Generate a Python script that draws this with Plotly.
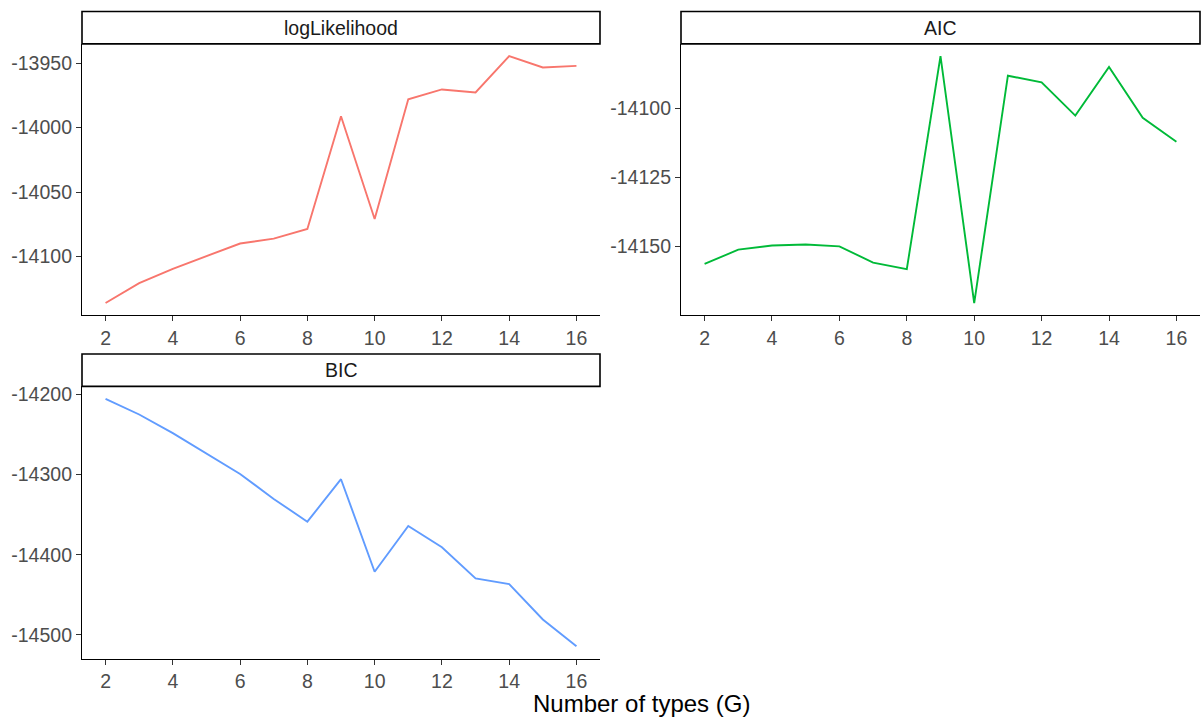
import plotly.graph_objects as go

# ---- data ----
G = list(range(2, 17))
loglik = [-14136.1, -14120.6, -14109.5, -14099.5, -14089.9, -14086.1, -14078.6,
          -13991.2, -14070.9, -13978.1, -13970.4, -13972.7, -13944.6, -13953.4, -13952.1]
aic = [-14156.5, -14151.3, -14149.8, -14149.4, -14150.1, -14156.0, -14158.4,
       -14081.0, -14170.7, -14088.1, -14090.5, -14102.6, -14084.9, -14103.4, -14112.1]
bic = [-14205.4, -14225.0, -14248.3, -14273.3, -14299.2, -14330.4, -14358.8,
       -14305.8, -14421.3, -14364.2, -14390.8, -14429.6, -14436.7, -14480.8, -14514.2]
panel_names = ["logLikelihood", "AIC", "BIC"]
colors = ["#F8766D", "#00BA38", "#619CFF"]
y_ticks = [[-13950, -14000, -14050, -14100],
           [-14100, -14125, -14150],
           [-14200, -14300, -14400, -14500]]
x_ticks = [2, 4, 6, 8, 10, 12, 14, 16]
x_title = "Number of types (G)"

W, H = 1202, 720
series = [loglik, aic, bic]

# panel geometry in pixels (left, right, top, bottom) of plotting area
panels = [(82, 600, 41, 313.7), (681, 1200, 41, 313.7), (82, 600, 385, 658.3)]
strip_h = 32.5

fig = go.Figure()

def expand(vals, m=0.05):
    lo, hi = min(vals), max(vals)
    d = (hi - lo) * m
    return [lo - d, hi + d]

FONT = "Liberation Sans, Arial, sans-serif"
TICKFONT = dict(family=FONT, size=19.5, color="#4D4D4D")
shapes = []
annotations = []
for i, (name, col, vals, yt) in enumerate(zip(panel_names, colors, series, y_ticks)):
    idx = "" if i == 0 else str(i + 1)
    l, r, t, b = panels[i]
    fig.add_trace(go.Scatter(x=G, y=vals, mode="lines",
                             line=dict(color=col, width=1.9),
                             xaxis="x" + idx, yaxis="y" + idx, showlegend=False,
                             hoverinfo="skip"))
    xr = expand(G)
    yr = expand(vals)
    fig.update_layout({
        "xaxis" + idx: dict(domain=[l / W, r / W], range=xr, anchor="y" + idx,
                            tickvals=x_ticks, ticktext=[str(v) for v in x_ticks],
                            showline=True, linecolor="black", linewidth=1.2,
                            ticks="outside", ticklen=5, tickwidth=1.1, tickcolor="#333333",
                            tickfont=TICKFONT,
                            showgrid=False, zeroline=False, fixedrange=True),
        "yaxis" + idx: dict(domain=[1 - b / H, 1 - t / H], range=yr, anchor="x" + idx,
                            tickvals=yt, ticktext=[str(v) for v in yt],
                            showline=True, linecolor="black", linewidth=1.2,
                            ticks="outside", ticklen=5, tickwidth=1.1, tickcolor="#333333",
                            tickfont=TICKFONT,
                            showgrid=False, zeroline=False, fixedrange=True),
    })
    # strip
    shapes.append(dict(type="rect", xref="paper", yref="paper",
                       x0=l / W, x1=r / W, y0=1 - t / H, y1=1 - (t - strip_h) / H,
                       line=dict(color="black", width=1.6), fillcolor="white"))
    annotations.append(dict(text=name, xref="paper", yref="paper",
                            x=(l + r) / 2 / W, y=1 - (t - strip_h / 2) / H,
                            xanchor="center", yanchor="middle", showarrow=False,
                            font=dict(family=FONT, size=19.5, color="#1A1A1A")))

annotations.append(dict(text=x_title, xref="paper", yref="paper",
                        x=(82 + 1200) / 2 / W, y=1 - 703 / H,
                        xanchor="center", yanchor="middle", showarrow=False,
                        font=dict(family=FONT, size=24, color="black")))

fig.update_layout(width=W, height=H, margin=dict(l=0, r=0, t=0, b=0),
                  paper_bgcolor="white", plot_bgcolor="white",
                  shapes=shapes, annotations=annotations)

fig.write_html("out.html", config={"displayModeBar": False})
